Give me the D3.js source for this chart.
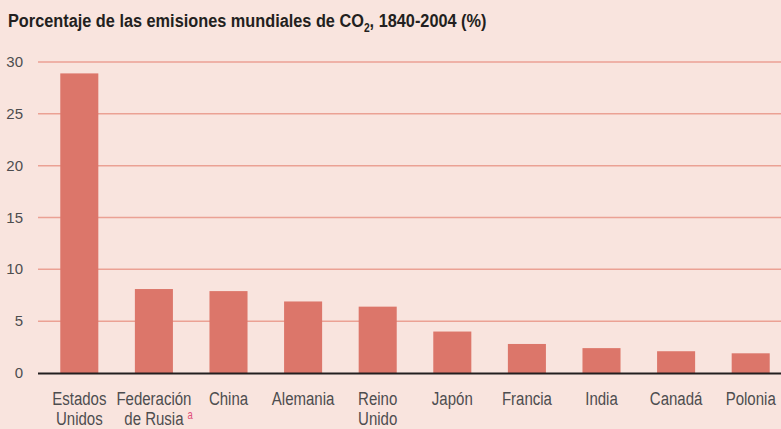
<!DOCTYPE html>
<html>
<head>
<meta charset="utf-8">
<script src="https://cdn.jsdelivr.net/npm/d3@7"></script>
<style>
  body { margin: 0; background: #f9e4de; }
  svg { display: block; }
</style>
</head>
<body>
<div id="chart"></div>
<script>
// data
var countries = ["Estados Unidos", "Federación de Rusia", "China", "Alemania", "Reino Unido",
                 "Japón", "Francia", "India", "Canadá", "Polonia"];
var labelLines = [["Estados", "Unidos"], ["Federación", "de Rusia"], ["China"], ["Alemania"], ["Reino", "Unido"],
                  ["Japón"], ["Francia"], ["India"], ["Canadá"], ["Polonia"]];
var shares = [28.9, 8.1, 7.9, 6.9, 6.4, 4.0, 2.8, 2.4, 2.1, 1.9];
var yTicks = [0, 5, 10, 15, 20, 25, 30];

var svgWidth = 781, svgHeight = 429;
var font = "'Liberation Sans', Arial, sans-serif";
var squeeze = 0.79; // fake a condensed face

var svg = d3.select("#chart")
  .append("svg")
  .attr("width", svgWidth)
  .attr("height", svgHeight)
  .style("background", "#f9e4de");

// title, squeezed to the reference width
var titleG = svg.append("g");
var title = titleG.append("text")
  .attr("x", 0)
  .attr("y", 0)
  .style("font-family", font)
  .style("font-weight", "bold")
  .style("font-size", "19px")
  .attr("fill", "#231f20");
title.append("tspan").text("Porcentaje de las emisiones mundiales de CO");
title.append("tspan").attr("dy", 5).style("font-size", "12px").text("2");
title.append("tspan").attr("dy", -5).text(", 1840-2004 (%)");
var tw = title.node().getBBox().width;
titleG.attr("transform", "translate(8,27) scale(" + (479 / tw) + ",1)");

var x = d3.scaleBand()
  .domain(countries)
  .range([42, 788])
  .paddingInner(0.49)
  .paddingOuter(0.245);

var y = d3.scaleLinear()
  .domain([0, 30])
  .range([373, 62]);

// gridlines
svg.append("g")
  .selectAll("line")
  .data(yTicks.filter(function(d) { return d > 0; }))
  .enter().append("line")
  .attr("x1", 38)
  .attr("x2", svgWidth)
  .attr("y1", function(d) { return y(d); })
  .attr("y2", function(d) { return y(d); })
  .attr("stroke", "#eba194")
  .attr("stroke-width", 1.5);

// y tick labels
svg.append("g")
  .selectAll("text")
  .data(yTicks)
  .enter().append("text")
  .attr("x", 23)
  .attr("y", function(d) { return y(d) + 5; })
  .attr("text-anchor", "end")
  .style("font-family", font)
  .style("font-size", "15px")
  .attr("fill", "#4d4d4f")
  .text(function(d) { return d; });

// bars
svg.selectAll(".bar")
  .data(shares)
  .enter().append("rect")
  .attr("class", "bar")
  .attr("x", function(d, i) { return x(countries[i]); })
  .attr("y", function(d) { return y(d); })
  .attr("width", x.bandwidth())
  .attr("height", function(d) { return y(0) - y(d); })
  .attr("fill", "#dc766a");

// baseline
svg.append("line")
  .attr("x1", 38)
  .attr("x2", svgWidth)
  .attr("y1", y(0) + 0.5)
  .attr("y2", y(0) + 0.5)
  .attr("stroke", "#231f20")
  .attr("stroke-width", 2);

// category labels
var labels = svg.append("g")
  .selectAll("g")
  .data(countries)
  .enter().append("g")
  .attr("transform", function(d) {
    return "translate(" + (x(d) + x.bandwidth() / 2) + ",405) scale(" + squeeze + ",1)";
  });

labels.each(function(d, i) {
  var g = d3.select(this);
  labelLines[i].forEach(function(line, j) {
    g.append("text")
      .attr("x", 0)
      .attr("y", j * 20)
      .attr("text-anchor", "middle")
      .style("font-family", font)
      .style("font-size", "19px")
      .attr("fill", "#4d4d4f")
      .text(line);
  });
  if (d === "Federación de Rusia") {
    var w = g.selectAll("text").nodes()[1].getComputedTextLength();
    g.append("text")
      .attr("x", w / 2 + 5)
      .attr("y", 20 - 6)
      .style("font-family", font)
      .style("font-size", "12px")
      .attr("fill", "#e0507a")
      .text("a");
  }
});
</script>
</body>
</html>
